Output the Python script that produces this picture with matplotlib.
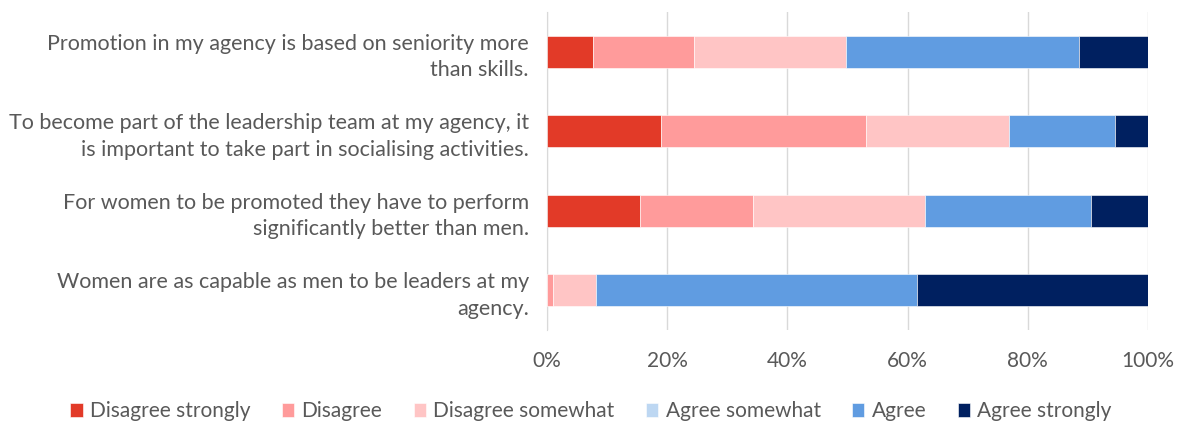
import numpy as np
import matplotlib.pyplot as plt
from matplotlib.transforms import ScaledTranslation

plt.rcParams['font.family'] = ['Lato', 'DejaVu Sans']

statements = [
    "Promotion in my agency is based on seniority more\nthan skills.",
    "To become part of the leadership team at my agency, it\nis important to take part in socialising activities.",
    "For women to be promoted they have to perform\nsignificantly better than men.",
    "Women are as capable as men to be leaders at my\nagency.",
]
responses = ["Disagree strongly", "Disagree", "Disagree somewhat",
             "Agree somewhat", "Agree", "Agree strongly"]
colors = ["#E23A28", "#FF9B9B", "#FFC5C5", "#BDD7F2", "#609CE1", "#002060"]

# share of respondents (%) per statement, one list per response
disagree_strongly = [7.7, 18.9, 15.4, 0.0]
disagree          = [16.7, 34.2, 18.8, 1.0]
disagree_somewhat = [25.3, 23.8, 28.7, 7.2]
agree_somewhat    = [0.0, 0.0, 0.0, 0.0]
agree             = [38.9, 17.6, 27.7, 53.3]
agree_strongly    = [11.4, 5.5, 9.4, 38.5]

series = [disagree_strongly, disagree, disagree_somewhat,
          agree_somewhat, agree, agree_strongly]

fig = plt.figure(figsize=(11.82, 4.21), dpi=100)
ax = fig.add_axes([0.4628, 0.2162, 0.5084, 0.7553])

y = np.arange(len(statements))
left = np.zeros(len(statements))
for name, vals, col in zip(responses, series, colors):
    vals = np.array(vals)
    ax.barh(y, vals, left=left, height=0.4, color=col, label=name,
            edgecolor='white', linewidth=0.4, zorder=3)
    left += vals

ax.set_xlim(0, 100)
ax.set_ylim(len(statements) - 0.5, -0.5)
ax.set_xticks(np.arange(0, 101, 20))
ax.set_xticklabels([f"{v}%" for v in range(0, 101, 20)], fontsize=15)
ax.set_yticks(y)
ax.set_yticklabels(statements, fontsize=15.5, linespacing=1.4)

# nudge the statement labels up a little
shift = ScaledTranslation(0, 8 / 100, fig.dpi_scale_trans)
for lbl in ax.get_yticklabels():
    lbl.set_transform(lbl.get_transform() + shift)

ax.grid(axis='x', color='#D9D9D9', linewidth=1, zorder=0)
for s in ['top', 'right', 'bottom']:
    ax.spines[s].set_visible(False)
ax.spines['left'].set_color('#D9D9D9')
ax.tick_params(axis='both', length=0, colors='#595959')
ax.tick_params(axis='y', pad=13)
ax.tick_params(axis='x', pad=15)

leg = fig.legend(loc='lower center', bbox_to_anchor=(0.5, -0.045), ncol=6,
                 frameon=False, fontsize=15, handlelength=0.6, handleheight=0.7,
                 handletextpad=0.35, columnspacing=1.5)
for t in leg.get_texts():
    t.set_color('#595959')

fig.savefig('out.png', dpi=100)
